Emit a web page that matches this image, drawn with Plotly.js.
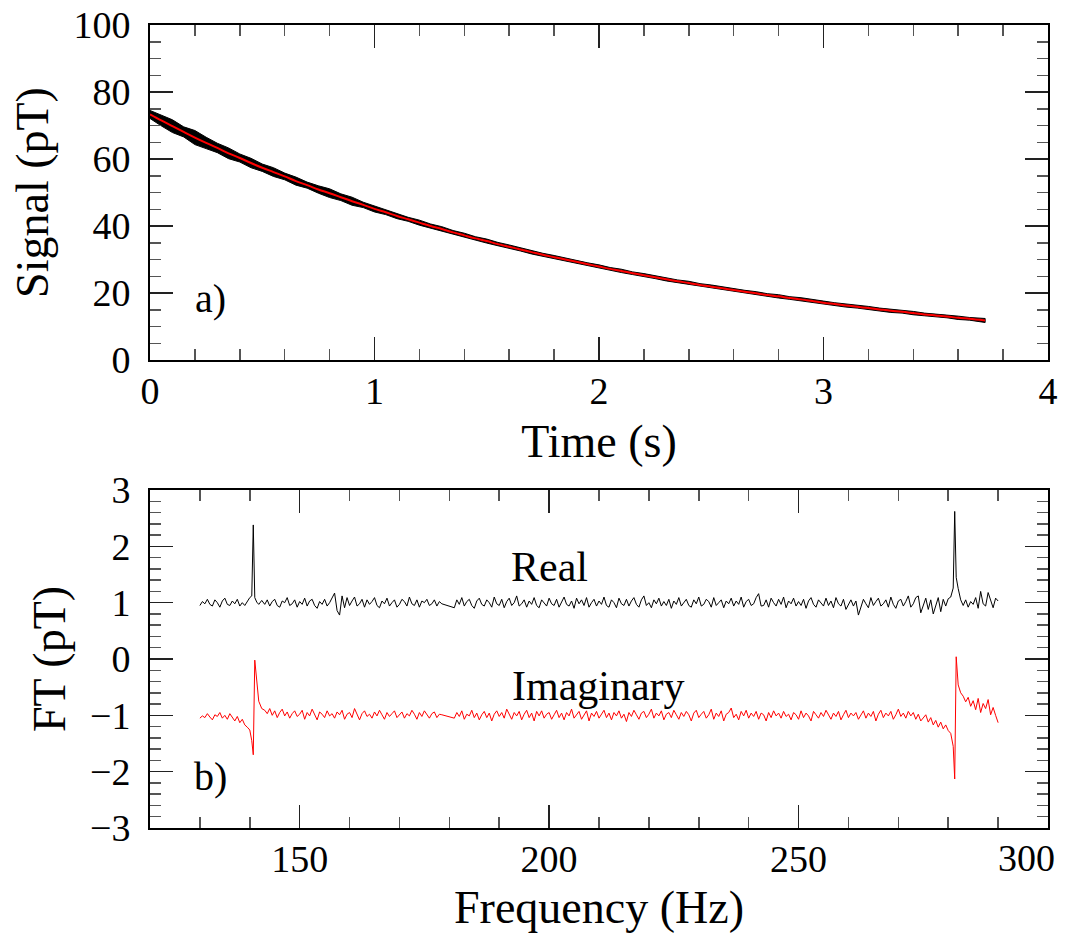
<!DOCTYPE html>
<html>
<head>
<meta charset="utf-8">
<script src="https://cdn.plot.ly/plotly-3.0.1.min.js"></script>
<style>html,body{margin:0;padding:0;background:#fff}#chart{width:1065px;height:941px}</style>
</head>
<body>
<div id="chart"></div>
<script>
// ---- panel a) time-domain signal ----
const time = [0,0.05,0.1,0.15,0.2,0.25,0.3,0.35,0.4,0.45,0.5,0.55,0.6,0.65,0.7,0.75,0.8,0.85,0.9,0.95,
  1.0,1.05,1.1,1.15,1.2,1.25,1.3,1.35,1.4,1.45,1.5,1.55,1.6,1.65,1.7,1.75,1.8,1.85,1.9,1.95,
  2.0,2.05,2.1,2.15,2.2,2.25,2.3,2.35,2.4,2.45,2.5,2.55,2.6,2.65,2.7,2.75,2.8,2.85,2.9,2.95,
  3.0,3.05,3.1,3.15,3.2,3.25,3.3,3.35,3.4,3.45,3.5,3.55,3.6,3.65,3.72];
const signal = [73.3,71.5,69.8,68.1,66.4,64.8,63.3,61.7,60.3,58.8,57.4,56.1,54.8,53.4,52.2,50.9,49.8,48.6,47.4,46.3,
  45.1,44.1,43.0,42.0,41.0,40.0,39.1,38.1,37.2,36.3,35.5,34.6,33.8,33.0,32.2,31.4,30.7,30.0,29.3,28.6,
  27.9,27.2,26.6,25.9,25.3,24.7,24.1,23.5,23.0,22.4,21.9,21.4,20.9,20.4,19.9,19.4,19.0,18.5,18.1,17.6,
  17.1,16.7,16.3,15.9,15.5,15.1,14.7,14.4,14.0,13.6,13.3,13.0,12.6,12.3,11.8];
const signalSpread = [1.2,1.6,1.9,1.5,2.1,1.7,1.4,1.6,1.2,1.4,1.1,1.3,1.0,1.2,0.9,1.1,1.3,1.0,1.2,0.8,
  0.9,0.7,0.8,0.6,0.75,0.6,0.7,0.55,0.65,0.5,0.6,0.5,0.55,0.45,0.55,0.45,0.5,0.4,0.5,0.4,
  0.5,0.4,0.5,0.4,0.5,0.4,0.5,0.4,0.5,0.4,0.5,0.4,0.5,0.4,0.5,0.4,0.5,0.4,0.5,0.4,
  0.5,0.4,0.5,0.4,0.5,0.4,0.5,0.4,0.5,0.4,0.5,0.4,0.5,0.4,0.6];
const fitSignal = [73.3,71.5,69.8,68.1,66.4,64.8,63.3,61.7,60.3,58.8,57.4,56.1,54.8,53.4,52.2,50.9,49.8,48.6,47.4,46.3,
  45.1,44.1,43.0,42.0,41.0,40.0,39.1,38.1,37.2,36.3,35.5,34.6,33.8,33.0,32.2,31.4,30.7,30.0,29.3,28.6,
  27.9,27.2,26.6,25.9,25.3,24.7,24.1,23.5,23.0,22.4,21.9,21.4,20.9,20.4,19.9,19.4,19.0,18.5,18.1,17.6,
  17.1,16.7,16.3,15.9,15.5,15.1,14.7,14.4,14.0,13.6,13.3,13.0,12.6,12.3,11.8];

// ---- panel b) Fourier transform ----
const freq = [130,130.5,131,131.5,132,132.5,133,133.5,134,134.5,135,135.5,136,136.5,137,137.5,138,138.5,139,139.5,140,
  140.4,140.7,141.0,141.4,141.8,142.4,
  143,143.5,144,144.5,145,145.5,146,146.5,147,147.5,148,148.5,149,149.5,150,150.5,151,151.5,152,152.5,153,153.5,154,154.5,
  155,155.5,156,156.5,157,157.5,158,158.5,159,159.5,160,160.5,161,161.5,162,162.5,163,163.5,164,164.5,
  165,165.5,166,166.5,167,167.5,168,168.5,169,169.5,170,170.5,171,171.5,172,172.5,173,173.5,174,174.5,
  175,175.5,176,176.5,177,177.5,178,178.5,
  181,181.5,182,182.5,183,183.5,184,184.5,185,185.5,186,186.5,187,187.5,188,188.5,189,189.5,190,190.5,
  191,191.5,192,192.5,193,193.5,194,194.5,195,195.5,196,196.5,197,197.5,198,198.5,199,199.5,200,200.5,
  201,201.5,202,202.5,203,203.5,204,204.5,205,205.5,206,206.5,207,207.5,208,208.5,209,209.5,210,210.5,
  211,211.5,212,212.5,213,213.5,214,214.5,215,215.5,216,216.5,217,217.5,218,218.5,219,219.5,220,220.5,
  221,221.5,222,222.5,223,223.5,224,224.5,225,225.5,226,226.5,227,227.5,228,228.5,229,229.5,230,230.5,
  231,231.5,232,232.5,233,233.5,234,234.5,235,235.5,236,236.5,237,237.5,238,238.5,239,239.5,240,240.5,
  241,241.5,242,242.5,243,243.5,244,244.5,245,245.5,246,246.5,247,247.5,248,248.5,249,249.5,250,250.5,
  251,251.5,252,252.5,253,253.5,254,254.5,255,255.5,256,256.5,257,257.5,258,258.5,259,259.5,260,260.5,
  261,261.5,262,262.5,263,263.5,264,264.5,265,265.5,266,266.5,267,267.5,268,268.5,269,269.5,270,270.5,
  271,271.5,272,272.5,273,273.5,274,274.5,275,275.5,276,276.5,277,277.5,278,278.5,279,279.5,280,
  280.5,281.0,281.3,281.6,282.0,282.5,
  283,283.5,284,284.5,285,285.5,286,286.5,287,287.5,288,288.5,289,289.5,290];
const ftReal = [0.95,1.02,0.98,1.06,0.97,0.94,1.05,1.00,0.92,1.03,1.08,0.97,0.95,1.03,0.98,1.06,0.94,1.00,0.95,1.03,1.09,
  1.12,2.38,1.09,1.01,0.97,1.04,
  0.97,1.05,0.94,1.02,1.06,0.95,0.92,1.03,1.00,1.09,0.95,0.98,1.05,0.92,1.02,0.97,1.08,0.94,1.03,1.06,0.95,0.90,1.02,0.97,
  1.06,0.94,1.00,1.08,1.17,0.86,0.78,1.12,0.91,1.09,0.95,1.03,1.10,0.94,0.98,1.06,0.92,1.05,0.97,1.02,
  1.09,0.95,0.91,1.03,0.98,1.08,0.94,1.00,1.05,0.92,0.97,1.06,1.02,0.94,1.10,0.98,0.95,1.05,0.92,1.03,
  1.00,1.06,0.95,0.98,1.05,0.94,1.02,0.98,
  0.91,1.05,0.97,1.09,0.94,1.02,1.06,0.95,0.90,1.03,1.08,0.97,0.94,1.05,1.00,0.92,1.10,0.98,0.95,1.06,
  0.91,1.02,1.08,0.95,1.00,1.12,0.94,0.98,1.05,0.92,1.03,0.97,1.09,0.95,0.91,1.05,1.00,0.94,1.08,0.98,
  0.95,1.06,0.92,1.02,1.10,0.97,0.94,1.03,0.90,1.08,0.98,1.05,0.95,1.09,0.92,1.00,1.06,0.94,1.03,0.97,
  1.10,0.95,0.92,1.05,1.00,0.91,1.08,0.98,0.95,1.06,0.94,1.03,1.09,0.97,0.92,1.05,1.12,0.95,1.00,0.91,
  1.05,0.98,1.08,0.94,1.02,0.95,1.06,0.90,1.03,0.97,1.09,0.94,1.00,1.06,0.95,0.92,1.05,0.98,1.10,0.94,
  0.97,1.06,1.02,0.92,1.09,0.95,1.00,1.05,0.91,1.03,0.98,1.08,0.94,1.03,0.97,1.10,0.92,1.02,1.06,0.95,
  0.98,1.09,1.16,0.94,0.95,1.05,0.92,1.08,1.00,0.94,1.06,0.97,1.10,0.91,1.03,0.98,1.08,0.94,1.02,0.95,
  1.06,0.90,1.03,1.09,0.97,0.92,1.05,1.00,0.94,1.08,0.95,1.03,0.91,1.09,0.98,0.94,1.06,0.88,0.97,1.05,
  0.94,1.03,0.78,0.92,1.06,0.98,0.91,1.09,0.95,1.02,1.08,0.94,0.98,1.05,0.92,1.10,0.97,0.90,1.03,1.06,
  0.94,1.02,1.12,0.92,0.98,1.09,1.12,0.82,0.97,1.08,0.88,1.05,0.80,0.96,1.09,0.84,1.06,0.94,1.07,
  1.10,1.26,2.62,1.45,1.25,1.05,
  0.95,1.05,0.92,1.02,0.97,1.09,0.90,1.20,0.98,0.94,1.18,1.03,0.91,1.08,1.03];
const ftImag = [-1.05,-1.01,-1.04,-0.97,-1.03,-1.08,-0.99,-1.02,-0.95,-1.05,-1.00,-1.07,-0.97,-1.04,-1.10,-1.02,-1.13,-1.07,-1.17,-1.21,-1.26,
  -1.45,-1.70,-0.02,-0.40,-0.75,-0.88,
  -0.91,-0.97,-0.88,-1.00,-0.92,-1.04,-0.95,-0.89,-1.01,-0.94,-1.05,-0.97,-0.92,-1.02,-0.98,-0.91,-1.07,-0.95,-1.01,-0.89,
  -0.99,-1.08,-0.94,-0.98,-1.04,-0.92,-1.01,-0.97,-1.05,-0.94,-0.99,-0.91,-1.07,-0.98,-0.95,-1.04,-0.88,-0.99,-1.08,-0.97,
  -0.92,-1.02,-0.98,-1.05,-0.94,-1.01,-0.91,-0.99,-1.07,-0.95,-1.02,-0.97,-0.92,-1.04,-0.99,-0.94,-1.05,-0.97,-1.01,-0.91,
  -0.98,-1.07,-0.95,-1.02,-0.92,-0.99,-1.05,-0.97,-0.94,-1.04,-0.98,-0.99,
  -1.05,-0.95,-1.02,-0.92,-1.07,-0.98,-1.01,-0.91,-1.04,-0.96,-1.08,-0.99,-0.93,-1.04,-0.96,-1.10,-0.98,-0.92,-1.02,-0.95,
  -1.05,-0.89,-0.99,-1.07,-0.95,-1.01,-0.93,-1.08,-0.98,-0.91,-1.04,-0.96,-1.10,-0.93,-1.01,-0.92,-1.05,-0.98,-0.95,-1.07,
  -0.99,-0.91,-1.04,-0.96,-1.08,-0.95,-1.01,-0.89,-1.05,-0.98,-0.93,-1.07,-0.99,-0.92,-1.10,-0.96,-1.02,-0.93,-1.05,-0.98,
  -0.91,-1.04,-0.96,-1.08,-0.95,-1.01,-0.92,-1.05,-0.98,-1.11,-0.95,-1.02,-0.91,-0.99,-1.07,-0.96,-0.93,-1.04,-0.98,-0.89,
  -1.05,-0.96,-1.01,-0.92,-1.08,-0.98,-0.95,-1.04,-0.91,-0.99,-1.07,-0.95,-1.02,-0.93,-0.99,-1.10,-0.96,-0.91,-1.04,-0.98,
  -0.93,-1.05,-0.99,-0.89,-1.07,-0.96,-1.02,-0.92,-1.10,-0.98,-0.95,-0.87,-1.04,-0.98,-1.08,-0.93,-1.01,-0.91,-1.05,-0.96,
  -1.02,-0.93,-1.07,-0.96,-0.99,-1.10,-0.95,-1.04,-0.92,-1.01,-0.96,-1.05,-0.93,-1.02,-0.98,-1.08,-0.95,-0.99,-1.07,-0.92,
  -1.04,-0.96,-1.01,-1.10,-0.93,-0.99,-1.05,-0.95,-1.02,-0.91,-0.98,-1.07,-0.96,-1.02,-0.93,-1.08,-0.99,-0.91,-1.04,-0.96,
  -1.01,-0.95,-1.07,-0.98,-0.92,-1.05,-0.96,-1.02,-0.93,-1.10,-0.98,-0.91,-1.04,-0.96,-1.01,-0.93,-1.07,-0.99,-0.89,-1.02,
  -0.96,-1.05,-0.93,-1.01,-0.95,-1.07,-0.98,-1.10,-1.04,-0.99,-1.12,-1.04,-1.17,-1.09,-1.21,-1.12,-1.24,-1.17,-1.27,
  -1.32,-1.55,-2.13,0.04,-0.46,-0.60,
  -0.66,-0.76,-0.68,-0.84,-0.74,-0.90,-0.70,-0.95,-0.79,-0.88,-0.72,-0.99,-0.86,-1.00,-1.13];

const freqTicks = [150,200,250,300];
const freqTickText = ['150','200','250',''];

const bandX = time.concat(time.slice().reverse());
const bandY = signal.map((v,i)=>v+signalSpread[i]).concat(signal.map((v,i)=>v-signalSpread[i]).reverse());

const FONT = 'Liberation Serif, Times New Roman, serif';

const traces = [
  {x: bandX, y: bandY, xaxis:'x', yaxis:'y', type:'scatter', mode:'lines', fill:'toself',
   fillcolor:'#000', line:{color:'#000', width:1}, hoverinfo:'skip', showlegend:false},
  {x: time, y: fitSignal, xaxis:'x', yaxis:'y', type:'scatter', mode:'lines',
   line:{color:'#ff0000', width:2, shape:'spline'}, showlegend:false},
  {x: freq, y: ftReal, xaxis:'x2', yaxis:'y2', type:'scatter', mode:'lines',
   line:{color:'#000', width:1}, showlegend:false},
  {x: freq, y: ftImag, xaxis:'x2', yaxis:'y2', type:'scatter', mode:'lines',
   line:{color:'#ff0000', width:1}, showlegend:false}
];

function mn(d){ return {ticks:'inside', ticklen:11, tickwidth:1.5, tickcolor:'#555', dtick:d, showgrid:false}; }
function ax(extra){
  return Object.assign({
    showline:true, linewidth:2, linecolor:'#000', mirror:'allticks',
    ticks:'inside', ticklen:23, tickwidth:1.5, tickcolor:'#222',
    showgrid:false, zeroline:false,
    tickfont:{family:FONT, size:38, color:'#000'}
  }, extra);
}

const layout = {
  width:1065, height:941,
  margin:{l:150, r:17, t:25, b:113},
  paper_bgcolor:'#fff', plot_bgcolor:'#fff',
  font:{family:FONT, color:'#000'},
  showlegend:false,
  xaxis: ax({domain:[0,1], anchor:'y', range:[0,4], dtick:1, tick0:0, minor:mn(0.2),
    ticklabelstandoff:-4,
    title:{text:'Time (s)', font:{family:FONT, size:46}, standoff:14}}),
  yaxis: ax({domain:[0.5828,1], anchor:'x', range:[0,100], dtick:20, tick0:0, minor:mn(5),
    ticklabelstandoff:10,
    title:{text:'Signal (pT)', font:{family:FONT, size:46}, standoff:10}}),
  xaxis2: ax({domain:[0,1], anchor:'y2', range:[120,300], tickmode:'array', tickvals:freqTicks, ticktext:freqTickText,
    ticklabelstandoff:-4,
    minor:{ticks:'inside', ticklen:11, tickwidth:1.5, tickcolor:'#555', tickmode:'linear', tick0:0, dtick:10, showgrid:false},
    title:{text:'Frequency (Hz)', font:{family:FONT, size:46}, standoff:12}}),
  yaxis2: ax({domain:[0,0.4209], anchor:'x2', range:[-3,3], dtick:1, tick0:0, minor:mn(0.2),
    ticklabelstandoff:10,
    title:{text:'FT (pT)', font:{family:FONT, size:46}, standoff:10}}),
  annotations:[
    {text:'a)', x:0.27, y:18.5, xref:'x', yref:'y', showarrow:false, font:{family:FONT, size:40}},
    {text:'b)', x:132.2, y:-2.08, xref:'x2', yref:'y2', showarrow:false, font:{family:FONT, size:40}},
    {text:'Real', x:200, y:1.63, xref:'x2', yref:'y2', showarrow:false, font:{family:FONT, size:42}},
    {text:'Imaginary', x:209.8, y:-0.48, xref:'x2', yref:'y2', showarrow:false, font:{family:FONT, size:42}},
    {text:'300', x:0.9766, y:-0.0374, xref:'paper', yref:'paper', xanchor:'center', yanchor:'middle', showarrow:false, font:{family:FONT, size:38}}
  ]
};

Plotly.newPlot('chart', traces, layout, {displayModeBar:false, staticPlot:true});
</script>
</body>
</html>
